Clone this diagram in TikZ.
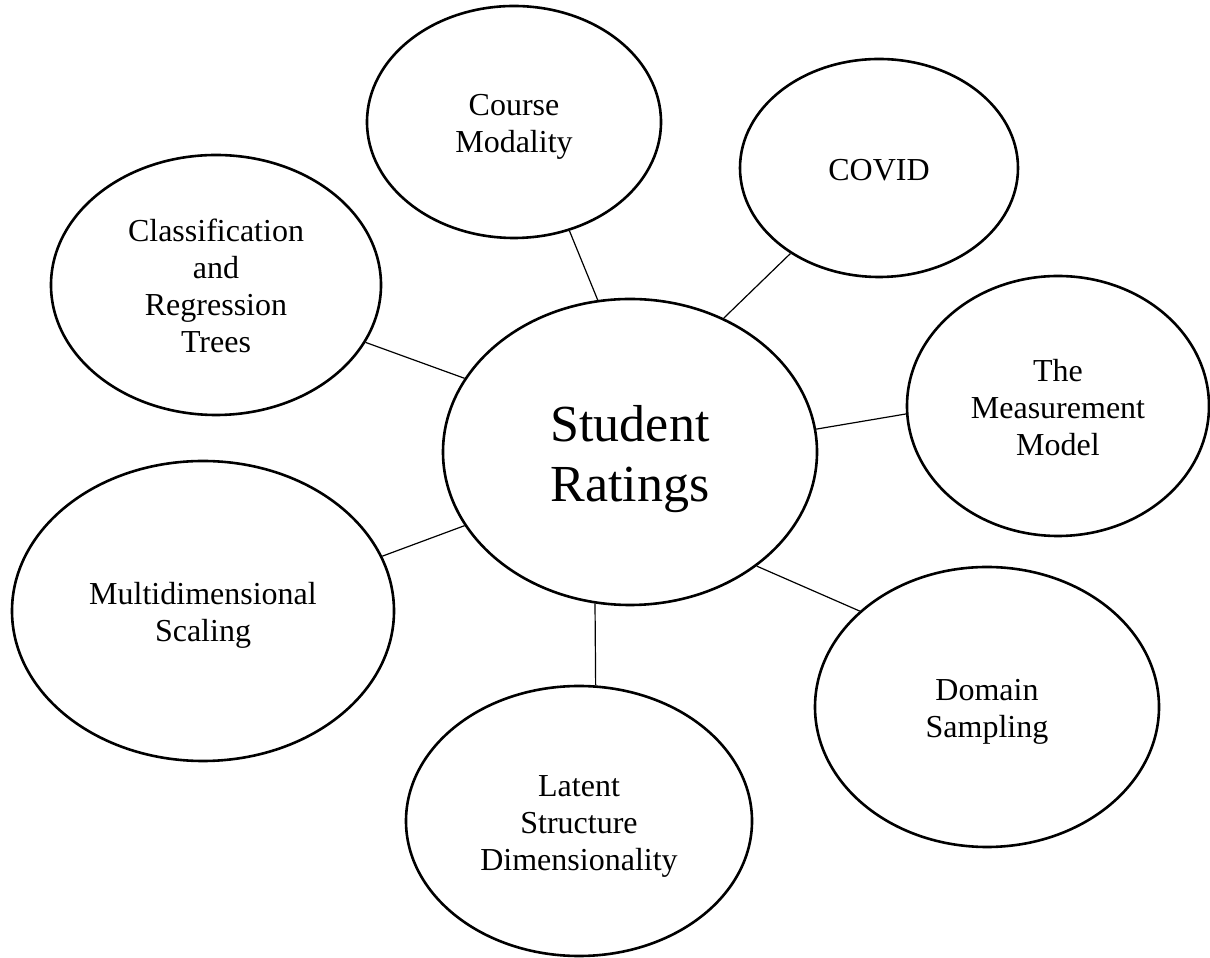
\documentclass[tikz,border=0pt]{standalone}
\usepackage{fontspec}
\setmainfont{Liberation Serif}
\usetikzlibrary{shapes.geometric}

% text lines of a bubble, set a little below the middle
\newcommand{\bubbletext}[1]{\raisebox{-0.15em}[\height][\depth]{\begin{tabular}{@{}c@{}}#1\end{tabular}}}

\begin{document}
\begin{tikzpicture}[x=1pt,y=1pt,
  bubble/.style={ellipse,draw,line width=2.6pt,inner sep=0pt,
    font=\fontsize{32}{37}\selectfont},
  link/.style={line width=1.2pt}]
  \useasboundingbox (0,0) rectangle (1210,958);
  \node[bubble,minimum width=374,minimum height=306,font=\fontsize{52}{60}\selectfont] (ratings) at (630,506) {\bubbletext{Student\\Ratings}};
  \node[bubble,minimum width=294,minimum height=232] (course) at (514,836) {\bubbletext{Course\\Modality}};
  \node[bubble,minimum width=278,minimum height=218] (covid) at (879,790) {\bubbletext{COVID}};
  \node[bubble,minimum width=302,minimum height=260] (measure) at (1058,552) {\bubbletext{The\\Measurement\\Model}};
  \node[bubble,minimum width=344,minimum height=280] (domain) at (987,251) {\bubbletext{Domain\\Sampling}};
  \node[bubble,minimum width=346,minimum height=270] (latent) at (579,137) {\bubbletext{Latent\\Structure\\Dimensionality}};
  \node[bubble,minimum width=382,minimum height=300] (multi) at (203,347) {\bubbletext{Multidimensional\\Scaling}};
  \node[bubble,minimum width=330,minimum height=260] (cart) at (216,673) {\bubbletext{Classification\\and\\Regression\\Trees}};
  \draw[link] (ratings.102.9) -- (course.297);
  \draw[link] (ratings.55.6) -- (covid.224);
  \draw[link] (ratings.7) -- (measure.183.8);
  \draw[link] (ratings.-42.8) -- (domain.143.2);
  \draw[link] (ratings.257.1) -- (latent.83.2);
  \draw[link] (ratings.204.7) -- (multi.17.9);
  \draw[link] (ratings.156.7) -- (cart.339.9);
\end{tikzpicture}
\end{document}
